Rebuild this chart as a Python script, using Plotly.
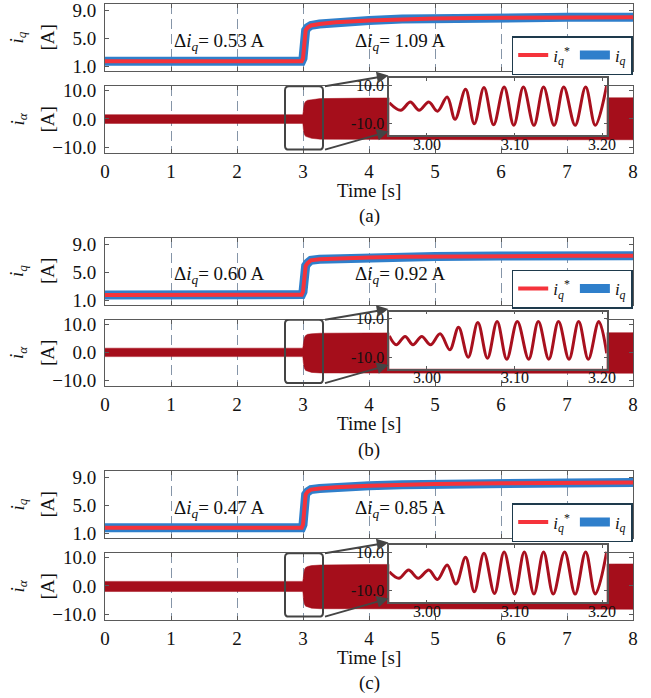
import plotly.graph_objects as go

# ---------------- data ----------------
PANEL_LABELS = ["(a)", "(b)", "(c)"]
DELTA_BEFORE = ["0.53", "0.60", "0.47"]
DELTA_AFTER = ["1.09", "0.92", "0.85"]

# q-axis current reference i_q* (and measured i_q, centred on it)
T_IQ = [0.0, 2.98, 3.0, 3.02, 3.04, 3.07, 3.12, 3.25, 3.5, 4.0, 4.5, 5.0, 6.0, 7.0, 8.0]
IQ_A = [1.80, 1.80, 2.2, 4.8, 6.2, 6.6, 6.9, 7.1, 7.35, 7.6, 7.8, 7.9, 8.0, 8.05, 8.05]
IQ_B = [1.75, 1.80, 2.2, 4.6, 5.9, 6.3, 6.7, 6.85, 6.95, 7.1, 7.2, 7.25, 7.3, 7.35, 7.35]
IQ_C = [1.85, 1.85, 2.3, 5.0, 6.6, 7.0, 7.3, 7.45, 7.65, 7.85, 8.0, 8.1, 8.2, 8.25, 8.3]

# envelope of the phase current i_alpha
T_ENV = [0.0, 2.995, 3.0, 3.005, 3.01, 3.02, 3.04, 3.07, 3.13, 3.26, 4.0, 5.0, 6.0, 8.0]
UP_A = [1.5, 1.5, 2.0, 3.6, 4.5, 5.5, 6.2, 6.6, 6.8, 7.2, 7.4, 7.5, 7.5, 7.5]
LO_A = [-1.6, -1.6, -2.1, -3.6, -4.5, -5.5, -6.2, -6.6, -6.9, -7.2, -7.3, -7.4, -7.4, -7.4]
UP_B = [1.5, 1.5, 2.0, 3.5, 4.4, 5.3, 6.0, 6.4, 6.6, 6.8, 6.9, 7.0, 7.0, 7.0]
LO_B = [-1.5, -1.5, -2.1, -3.6, -4.6, -5.6, -6.4, -6.8, -7.1, -7.3, -7.4, -7.4, -7.4, -7.4]
UP_C = [1.6, 1.6, 2.1, 3.7, 4.7, 5.7, 6.5, 6.9, 7.2, 7.4, 7.6, 7.7, 7.8, 7.8]
LO_C = [-2.0, -2.0, -2.5, -4.2, -5.3, -6.4, -7.2, -7.6, -7.9, -8.1, -8.2, -8.3, -8.3, -8.3]

# zoomed i_alpha waveform (extrema)
T_Z_A = [2.957, 2.970, 2.981, 2.991, 3.002, 3.012, 3.023, 3.032, 3.044, 3.054, 3.065, 3.076,
         3.088, 3.099, 3.110, 3.122, 3.133, 3.145, 3.156, 3.169, 3.181, 3.192, 3.205]
I_Z_A = [0.9, -3.0, 1.3, -3.0, 1.3, -3.5, 3.9, -7.7, 7.9, -10.0, 8.8, -10.5,
         9.1, -10.8, 9.1, -10.8, 9.1, -10.8, 9.1, -10.8, 9.1, -10.8, 10.0]
T_Z_B = [2.957, 2.965, 2.975, 2.984, 2.994, 3.004, 3.015, 3.026, 3.036, 3.047, 3.058, 3.069,
         3.080, 3.091, 3.103, 3.116, 3.127, 3.139, 3.150, 3.162, 3.173, 3.184, 3.196, 3.205]
I_Z_B = [1.15, -3.5, 0.8, -3.5, 0.8, -3.5, 2.2, -6.1, 5.6, -10.0, 8.1, -10.5,
         8.6, -11.0, 8.6, -11.0, 8.6, -11.0, 8.6, -11.0, 8.6, -11.0, 8.6, -7.9]
T_Z_C = [2.957, 2.968, 2.979, 2.990, 3.002, 3.012, 3.023, 3.033, 3.044, 3.054, 3.065, 3.077,
         3.088, 3.100, 3.111, 3.122, 3.133, 3.144, 3.157, 3.169, 3.181, 3.192, 3.205]
I_Z_C = [-0.1, -3.5, 0.8, -3.5, 0.8, -4.1, 3.4, -6.5, 7.4, -10.5, 9.5, -11.4,
         10.2, -11.7, 10.2, -11.7, 10.2, -11.7, 10.2, -11.7, 10.2, -11.7, 10.3]

# zoom window marked on the main i_alpha axes
ZOOM_T = [2.727, 3.303]
ZOOM_I = [-10.9, 11.55]

X_TICKS = [0, 1, 2, 3, 4, 5, 6, 7, 8]
IQ_TICKS = [1, 5, 9]
IA_TICKS = [-10, 0, 10]
INSET_X_TICKS = [3.0, 3.1, 3.2]
INSET_Y_TICKS = [-10, 10]
INSET_T_RANGE = [2.957, 3.205]
INSET_I_RANGE = [-16, 13.8]

IQ = [IQ_A, IQ_B, IQ_C]
UP = [UP_A, UP_B, UP_C]
LO = [LO_A, LO_B, LO_C]
TZ = [T_Z_A, T_Z_B, T_Z_C]
IZ = [I_Z_A, I_Z_B, I_Z_C]

# ---------------- styling / layout ----------------
W, H = 651, 698
FONT = "Liberation Serif, Times New Roman, serif"
RED = "#f5333b"
BLUE = "#2f7fcb"
DARKRED = "#a50e1b"
FRAME = "#5a5a5a"
GRID = "#8595a8"
PANEL_STEP = 233.5
INSET_FS = 16
INSET_PX = (389.3, 606.7)     # inset frame, left/right (px)
INSET_PY = (78.0, 135.3)      # inset frame, top/bottom (px) for panel (a)


def xd(p0, p1):
    return [p0 / W, p1 / W]


def yd(p0, p1):
    return [1 - p1 / H, 1 - p0 / H]


def sfx(n):
    return "" if n == 1 else str(n)


def serif_width(s, fs):
    # approximate advance width of a Times-like numeric label
    w = {"-": 0.333, ".": 0.25}
    return sum(w.get(c, 0.5) for c in s) * fs


fig = go.Figure()
layout = dict(
    width=W, height=H, autosize=False,
    margin=dict(l=0, r=0, t=0, b=0, autoexpand=False),
    paper_bgcolor="white", plot_bgcolor="white",
    font=dict(family=FONT, size=19, color="#111"),
    shapes=[], annotations=[],
)

main_x_dom = xd(105, 633)
inset_x_dom = xd(*INSET_PX)

for k in range(3):
    off = PANEL_STEP * k
    nt, nb, ni = 3 * k + 1, 3 * k + 2, 3 * k + 3
    leg = "legend" + sfx(k + 1)
    iy0, iy1 = INSET_PY[0] + off, INSET_PY[1] + off

    # ---- top: i_q ----
    fig.add_trace(go.Scatter(
        x=T_IQ, y=IQ[k], mode="lines", name="<i>i<sub>q</sub></i>",
        line=dict(color=BLUE, width=9), legend=leg, legendrank=2,
        xaxis="x" + sfx(nt), yaxis="y" + sfx(nt), showlegend=True))
    fig.add_trace(go.Scatter(
        x=T_IQ, y=IQ[k], mode="lines", name="<i>i<sub>q</sub></i><sup>*</sup>",
        line=dict(color=RED, width=4), legend=leg, legendrank=1,
        xaxis="x" + sfx(nt), yaxis="y" + sfx(nt), showlegend=True))

    # ---- bottom: i_alpha envelope ----
    fig.add_trace(go.Scatter(
        x=T_ENV + T_ENV[::-1], y=UP[k] + LO[k][::-1], mode="lines",
        fill="toself", fillcolor=DARKRED, line=dict(color=DARKRED, width=0.5),
        xaxis="x" + sfx(nb), yaxis="y" + sfx(nb), showlegend=False, hoverinfo="skip"))

    # ---- inset ----
    fig.add_trace(go.Scatter(
        x=TZ[k], y=IZ[k], mode="lines", line=dict(color="#a8101e", width=3, shape="spline", smoothing=1.0),
        xaxis="x" + sfx(ni), yaxis="y" + sfx(ni), showlegend=False))

    common_x = dict(range=[0, 8], tickvals=X_TICKS, ticks="inside", ticklen=4, tickcolor=FRAME,
                    showline=True, linecolor=FRAME, linewidth=1, mirror="ticks",
                    showgrid=True, gridcolor=GRID, gridwidth=1, griddash="10px,5px",
                    zeroline=False, domain=main_x_dom, automargin=False)
    layout["xaxis" + sfx(nt)] = dict(common_x, anchor="y" + sfx(nt), showticklabels=False)
    layout["xaxis" + sfx(nb)] = dict(common_x, anchor="y" + sfx(nb), showticklabels=True,
                                      tickfont=dict(size=19), ticklabelstandoff=1)
    common_y = dict(ticks="inside", ticklen=4, tickcolor=FRAME, showline=True, linecolor=FRAME,
                    linewidth=1, mirror="ticks", showgrid=False, zeroline=False, automargin=False,
                    tickformat=".1f", tickfont=dict(size=19), ticklabelstandoff=4)
    layout["yaxis" + sfx(nt)] = dict(common_y, anchor="x" + sfx(nt), range=[0.39, 9.96],
                                      tickvals=IQ_TICKS, domain=yd(4 + off, 71 + off))
    layout["yaxis" + sfx(nb)] = dict(common_y, anchor="x" + sfx(nb), range=[-12.0, 11.67],
                                      tickvals=IA_TICKS, domain=yd(86 + off, 152.7 + off))

    inset_common = dict(ticks="inside", ticklen=3, tickcolor=FRAME, showline=True,
                        linecolor="#555", linewidth=1.5, mirror="ticks", showgrid=False,
                        zeroline=False, automargin=False, showticklabels=False)
    layout["xaxis" + sfx(ni)] = dict(inset_common, domain=inset_x_dom, anchor="y" + sfx(ni),
                                      range=INSET_T_RANGE, tickvals=INSET_X_TICKS)
    layout["yaxis" + sfx(ni)] = dict(inset_common, domain=yd(iy0, iy1), anchor="x" + sfx(ni),
                                      range=INSET_I_RANGE, tickvals=INSET_Y_TICKS)

    # inset x tick labels
    for tv in INSET_X_TICKS:
        layout["annotations"].append(dict(x=tv, xref="x" + sfx(ni), y=1 - (144 + off) / H, yref="paper",
                                          text=f"{tv:.2f}", showarrow=False, font=dict(size=INSET_FS),
                                          xanchor="center", yanchor="middle"))
    # inset y tick labels, right-aligned just left of the inset frame (centre-anchored text)
    span = INSET_I_RANGE[1] - INSET_I_RANGE[0]
    for tv in INSET_Y_TICKS:
        lab = f"{tv:.1f}"
        cx = 384 - serif_width(lab, INSET_FS) / 2
        py = iy0 + (INSET_I_RANGE[1] - tv) / span * (iy1 - iy0)
        layout["annotations"].append(dict(x=cx / W, xref="paper", y=1 - py / H, yref="paper",
                                          text=lab, showarrow=False, font=dict(size=INSET_FS),
                                          xanchor="center", yanchor="middle"))

    # legend
    layout[leg] = dict(x=632.7 / W, y=1 - (36 + off) / H, xanchor="right", yanchor="top",
                       orientation="h", bgcolor="white", bordercolor="#1e3a4c", borderwidth=1.5,
                       font=dict(size=17, family=FONT), itemwidth=30, tracegroupgap=0)

    # zoom window (rounded rectangle) on the main i_alpha axes
    x0, x1 = ZOOM_T
    y0, y1 = ZOOM_I
    rx, ry = 0.06, 1.4
    path = (f"M {x0+rx},{y1} L {x1-rx},{y1} Q {x1},{y1} {x1},{y1-ry} L {x1},{y0+ry} "
            f"Q {x1},{y0} {x1-rx},{y0} L {x0+rx},{y0} Q {x0},{y0} {x0},{y0+ry} "
            f"L {x0},{y1-ry} Q {x0},{y1} {x0+rx},{y1} Z")
    layout["shapes"].append(dict(type="path", path=path, xref="x" + sfx(nb), yref="y" + sfx(nb),
                                 line=dict(color="#444", width=2), layer="above"))

    # arrows from zoom window to the inset
    layout["annotations"].append(dict(x=388.5 / W, y=1 - (75.5 + off) / H, xref="paper", yref="paper",
                                      ax=-65, ay=11, text="", showarrow=True, arrowhead=2,
                                      arrowsize=1.3, arrowwidth=1.8, arrowcolor="#444"))
    layout["annotations"].append(dict(x=388.5 / W, y=1 - (131.5 + off) / H, xref="paper", yref="paper",
                                      ax=-65, ay=18.5, text="", showarrow=True, arrowhead=2,
                                      arrowsize=1.3, arrowwidth=1.8, arrowcolor="#444"))

    # delta annotations
    layout["annotations"].append(dict(x=1.74, y=4.6, xref="x" + sfx(nt), yref="y" + sfx(nt),
                                      text=f"Δ<i>i<sub>q</sub></i>= {DELTA_BEFORE[k]} A",
                                      showarrow=False, font=dict(size=19)))
    layout["annotations"].append(dict(x=4.47, y=4.6, xref="x" + sfx(nt), yref="y" + sfx(nt),
                                      text=f"Δ<i>i<sub>q</sub></i>= {DELTA_AFTER[k]} A",
                                      showarrow=False, font=dict(size=19)))

    # y titles
    for yc, sym in ((37.5 + off, "<i>i<sub>q</sub></i>"), (119.5 + off, "<i>i<sub>α</sub></i>")):
        layout["annotations"].append(dict(x=18 / W, y=1 - yc / H, xref="paper", yref="paper",
                                          text=sym, textangle=-90, showarrow=False,
                                          font=dict(size=19), xanchor="center", yanchor="middle"))
        layout["annotations"].append(dict(x=47 / W, y=1 - yc / H, xref="paper", yref="paper",
                                          text="[A]", textangle=-90, showarrow=False,
                                          font=dict(size=19), xanchor="center", yanchor="middle"))

    # x title and panel label
    layout["annotations"].append(dict(x=369 / W, y=1 - (190 + off) / H, xref="paper", yref="paper",
                                      text="Time [s]", showarrow=False, font=dict(size=19),
                                      xanchor="center", yanchor="middle"))
    layout["annotations"].append(dict(x=369 / W, y=1 - (216 + off) / H, xref="paper", yref="paper",
                                      text=PANEL_LABELS[k], showarrow=False, font=dict(size=19),
                                      xanchor="center", yanchor="middle"))

fig.update_layout(**layout)
fig.write_html("out.html", config={"displayModeBar": False},
               post_script="document.body.style.margin='0px';document.body.style.overflow='hidden';")
